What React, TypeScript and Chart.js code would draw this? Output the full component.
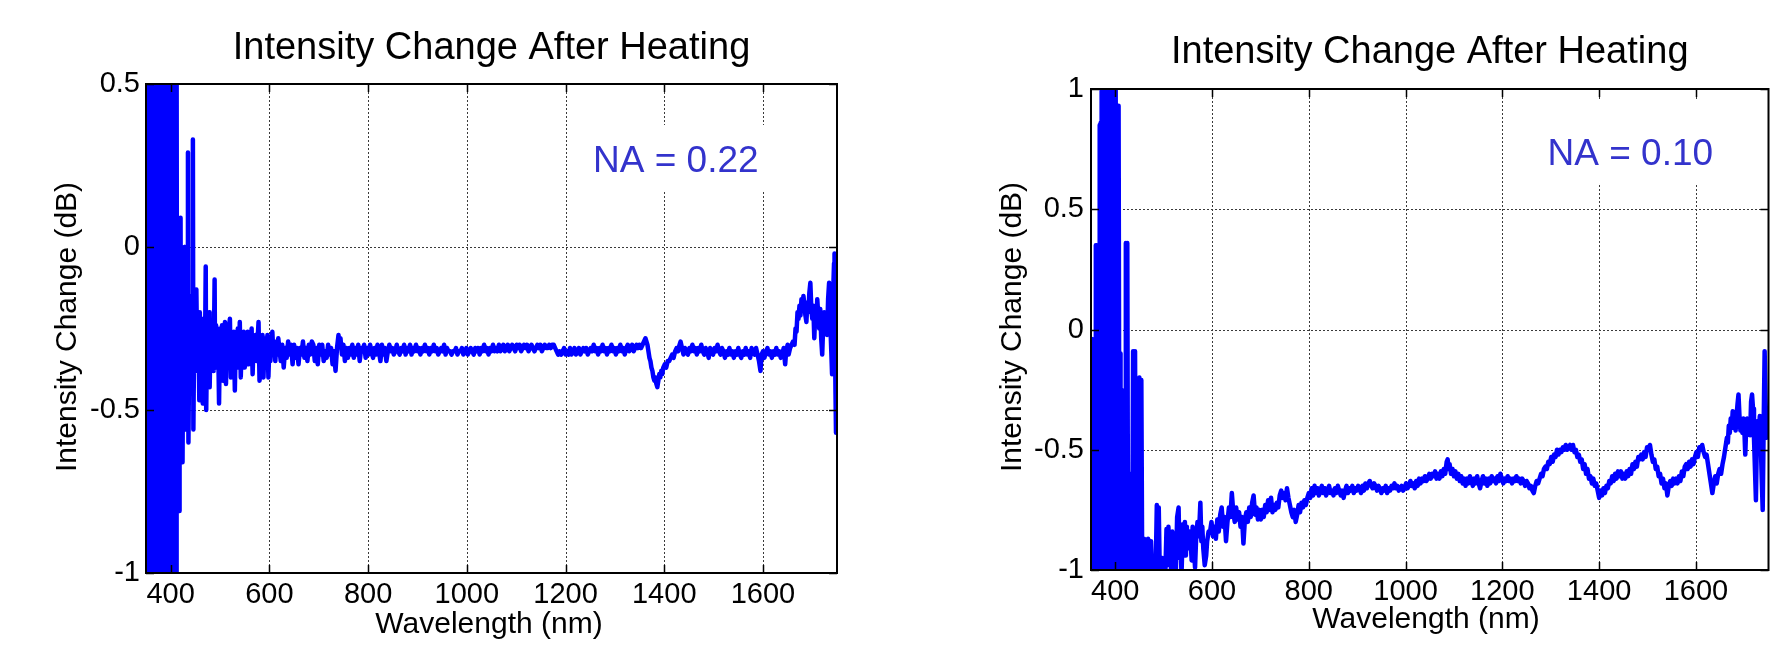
import React, { useEffect, useRef } from 'react';
import { Chart, registerables } from 'chart.js';

Chart.register(...registerables);

const FONT = "'Liberation Sans', Arial, Helvetica, sans-serif";

const chartTitle = 'Intensity Change After Heating';
const xAxisTitle = 'Wavelength (nm)';
const yAxisTitle = 'Intensity Change (dB)';
const xRange: [number, number] = [350, 1750];
const xTickValues = [400, 600, 800, 1000, 1200, 1400, 1600];
const yTicksNA022 = [-1, -0.5, 0, 0.5];
const yTicksNA010 = [-1, -0.5, 0, 0.5, 1];
const labelNA022 = 'NA = 0.22';
const labelNA010 = 'NA = 0.10';

// [wavelength (nm), intensity change (dB)] (NA = 0.22)
const spectrumNA022: [number, number][] = [
  [350,-0.15],[351,-0.96],[352,0.8],[353,-1.5],[354,0.9],[355,-0.6],[356,1.2],[357,-1.4],[358,0.7],[359,-1.6],
  [360,1.0],[361,-1.2],[362,0.6],[363,-1.5],[364,1.1],[365,-1.3],[366,0.9],[367,-1.5],[368,0.45],[369,-1.2],
  [370,1.0],[371,-1.4],[372,0.8],[373,-1.6],[374,1.2],[375,-1.1],[376,0.7],[377,-1.5],[378,1.0],[379,-1.3],
  [380,0.5],[381,-1.4],[382,1.1],[383,-1.6],[384,0.9],[385,-1.2],[386,0.6],[387,-1.5],[388,1.0],[389,-1.3],
  [390,0.43],[391,-1.5],[392,0.8],[393,-1.2],[394,1.1],[395,-1.4],[396,0.7],[397,-1.6],[398,1.0],[399,-1.3],
  [400,0.9],[401,-1.2],[402,1.2],[403,-1.5],[404,0.6],[405,-1.4],[406,1.0],[407,-1.2],[408,0.8],[409,-1.4],
  [410,1.1],[411,-1.1],[412,0.6],[413,-0.80],[414,0.08],[415,-0.78],[416,0.05],[417,-0.81],[418,-0.1],[419,-0.65],
  [420,0.09],[421,-0.62],[422,-0.05],[424,-0.66],[426,-0.1],[428,0.0],[429,-0.55],[431,-0.02],[432,-0.56],[434,-0.1],
  [435,0.29],[436,-0.6],[438,-0.2],[440,-0.45],[442,-0.15],[444,-0.3],[445,0.33],[446,-0.56],[448,-0.2],[450,-0.38],
  [452,-0.13],[454,-0.38],[456,-0.22],[458,-0.47],[459,-0.2],[461,-0.36],[463,-0.22],[465,-0.48],[467,-0.25],[469,-0.42],
  [471,-0.06],[472,-0.50],[474,-0.25],[476,-0.38],[478,-0.2],[479,-0.43],[481,-0.26],[483,-0.34],[485,-0.24],[487,-0.38],
  [489,-0.10],[490,-0.37],[492,-0.24],[494,-0.33],[496,-0.27],[498,-0.48],[500,-0.25],[502,-0.36],[504,-0.24],[506,-0.41],
  [508,-0.27],[510,-0.23],[512,-0.42],[514,-0.28],[516,-0.35],[518,-0.25],[520,-0.22],[522,-0.40],[524,-0.28],[526,-0.34],
  [528,-0.26],[530,-0.44],[532,-0.28],[534,-0.35],[536,-0.25],[538,-0.37],[540,-0.23],[542,-0.40],[544,-0.29],[546,-0.34],
  [548,-0.26],[550,-0.37],[552,-0.28],[554,-0.32],[556,-0.26],[558,-0.36],[560,-0.28],[562,-0.33],[564,-0.25],[566,-0.39],
  [568,-0.29],[570,-0.33],[572,-0.27],[574,-0.35],[576,-0.29],[578,-0.23],[580,-0.41],[582,-0.30],[584,-0.34],[586,-0.27],
  [588,-0.40],[590,-0.30],[592,-0.28],[594,-0.36],[596,-0.27],[598,-0.40],[600,-0.30],[602,-0.35],[604,-0.28],[606,-0.26],
  [608,-0.33],[610,-0.30],[612,-0.35],[614,-0.29],[616,-0.33],[618,-0.28],[620,-0.31],[623,-0.35],[626,-0.30],[629,-0.37],
  [632,-0.31],[635,-0.34],[638,-0.29],[641,-0.33],[644,-0.30],[647,-0.36],[650,-0.30],[653,-0.34],[656,-0.31],[659,-0.36],
  [662,-0.31],[665,-0.33],[668,-0.29],[671,-0.34],[674,-0.31],[677,-0.35],[680,-0.30],[683,-0.33],[686,-0.29],[689,-0.30],
  [692,-0.35],[695,-0.31],[698,-0.36],[701,-0.30],[704,-0.33],[707,-0.30],[710,-0.35],[713,-0.32],[716,-0.34],[719,-0.30],
  [722,-0.33],[725,-0.31],[728,-0.36],[731,-0.32],[734,-0.38],[737,-0.31],[740,-0.27],[742,-0.30],[744,-0.28],[747,-0.33],
  [750,-0.30],[753,-0.35],[756,-0.31],[759,-0.34],[762,-0.31],[765,-0.33],[768,-0.30],[771,-0.34],[774,-0.31],[777,-0.33],
  [780,-0.30],[783,-0.35],[786,-0.31],[789,-0.32],[792,-0.30],[795,-0.34],[798,-0.31],[801,-0.33],[804,-0.30],[807,-0.32],
  [810,-0.34],[813,-0.31],[816,-0.33],[819,-0.30],[822,-0.32],[825,-0.35],[828,-0.30],[831,-0.33],[834,-0.31],[837,-0.35],
  [840,-0.32],[843,-0.30],[846,-0.32],[849,-0.31],[852,-0.33],[855,-0.32],[858,-0.30],[861,-0.32],[864,-0.33],[867,-0.31],
  [870,-0.32],[873,-0.30],[876,-0.33],[879,-0.31],[882,-0.32],[885,-0.30],[888,-0.33],[891,-0.31],[894,-0.32],[897,-0.30],
  [900,-0.32],[903,-0.31],[906,-0.33],[909,-0.31],[912,-0.32],[915,-0.30],[918,-0.32],[921,-0.31],[924,-0.33],[927,-0.31],
  [930,-0.32],[933,-0.30],[936,-0.32],[939,-0.31],[942,-0.33],[945,-0.32],[948,-0.31],[951,-0.32],[954,-0.30],[957,-0.33],
  [960,-0.31],[963,-0.32],[966,-0.32],[969,-0.33],[972,-0.32],[975,-0.32],[978,-0.31],[981,-0.33],[984,-0.32],[987,-0.32],
  [990,-0.31],[993,-0.33],[996,-0.32],[999,-0.31],[1002,-0.33],[1005,-0.32],[1008,-0.31],[1011,-0.32],[1014,-0.33],[1017,-0.31],
  [1020,-0.32],[1023,-0.31],[1026,-0.33],[1029,-0.31],[1032,-0.32],[1035,-0.30],[1038,-0.32],[1041,-0.31],[1044,-0.33],[1047,-0.31],
  [1050,-0.32],[1053,-0.30],[1056,-0.32],[1059,-0.31],[1062,-0.32],[1065,-0.30],[1068,-0.32],[1071,-0.31],[1074,-0.30],[1077,-0.32],
  [1080,-0.31],[1083,-0.30],[1086,-0.32],[1089,-0.31],[1092,-0.30],[1095,-0.31],[1098,-0.32],[1101,-0.30],[1104,-0.31],[1107,-0.30],
  [1110,-0.32],[1113,-0.31],[1116,-0.30],[1119,-0.31],[1122,-0.30],[1125,-0.32],[1128,-0.31],[1131,-0.30],[1134,-0.31],[1137,-0.32],
  [1140,-0.31],[1143,-0.30],[1146,-0.31],[1149,-0.30],[1152,-0.32],[1155,-0.31],[1158,-0.30],[1161,-0.31],[1164,-0.31],[1167,-0.30],
  [1170,-0.31],[1173,-0.30],[1176,-0.30],[1179,-0.31],[1182,-0.32],[1185,-0.33],[1188,-0.32],[1191,-0.33],[1194,-0.32],[1197,-0.31],
  [1200,-0.33],[1203,-0.32],[1206,-0.33],[1209,-0.31],[1212,-0.33],[1215,-0.32],[1218,-0.31],[1221,-0.33],[1224,-0.32],[1227,-0.31],
  [1230,-0.33],[1233,-0.32],[1236,-0.31],[1239,-0.32],[1242,-0.31],[1245,-0.33],[1248,-0.32],[1251,-0.31],[1254,-0.32],[1257,-0.30],
  [1260,-0.32],[1263,-0.31],[1266,-0.33],[1269,-0.31],[1272,-0.32],[1275,-0.30],[1278,-0.32],[1281,-0.31],[1284,-0.33],[1287,-0.31],
  [1290,-0.32],[1293,-0.30],[1296,-0.32],[1299,-0.31],[1302,-0.33],[1305,-0.31],[1308,-0.32],[1311,-0.30],[1314,-0.32],[1317,-0.31],
  [1320,-0.33],[1323,-0.31],[1326,-0.30],[1329,-0.32],[1332,-0.31],[1335,-0.30],[1338,-0.32],[1341,-0.31],[1344,-0.30],[1347,-0.31],
  [1350,-0.30],[1353,-0.31],[1356,-0.30],[1359,-0.29],[1362,-0.28],[1364,-0.29],[1366,-0.30],[1368,-0.32],[1370,-0.34],[1372,-0.35],
  [1374,-0.37],[1376,-0.38],[1378,-0.40],[1380,-0.41],[1382,-0.40],[1384,-0.42],[1386,-0.43],[1388,-0.41],[1390,-0.39],[1392,-0.40],
  [1394,-0.38],[1396,-0.39],[1398,-0.37],[1401,-0.36],[1404,-0.37],[1407,-0.35],[1410,-0.35],[1413,-0.34],[1416,-0.33],[1419,-0.34],
  [1422,-0.32],[1425,-0.31],[1428,-0.32],[1431,-0.30],[1433,-0.29],[1436,-0.31],[1439,-0.33],[1442,-0.31],[1445,-0.32],[1448,-0.33],
  [1451,-0.31],[1454,-0.32],[1457,-0.30],[1460,-0.32],[1463,-0.31],[1466,-0.33],[1469,-0.31],[1472,-0.32],[1475,-0.30],[1478,-0.32],
  [1481,-0.33],[1484,-0.31],[1487,-0.32],[1490,-0.34],[1493,-0.31],[1496,-0.32],[1499,-0.33],[1502,-0.31],[1505,-0.32],[1508,-0.30],
  [1511,-0.32],[1514,-0.33],[1517,-0.31],[1520,-0.32],[1523,-0.34],[1526,-0.32],[1529,-0.33],[1532,-0.31],[1535,-0.33],[1538,-0.32],
  [1541,-0.34],[1544,-0.32],[1547,-0.33],[1550,-0.31],[1553,-0.33],[1556,-0.34],[1559,-0.32],[1562,-0.33],[1565,-0.31],[1568,-0.33],
  [1571,-0.32],[1574,-0.34],[1577,-0.31],[1580,-0.32],[1583,-0.33],[1586,-0.31],[1589,-0.33],[1592,-0.35],[1595,-0.38],[1597,-0.33],
  [1600,-0.32],[1603,-0.34],[1606,-0.32],[1609,-0.31],[1612,-0.33],[1615,-0.32],[1618,-0.34],[1621,-0.32],[1624,-0.33],[1627,-0.31],
  [1630,-0.33],[1633,-0.32],[1636,-0.34],[1639,-0.33],[1642,-0.31],[1645,-0.36],[1647,-0.32],[1650,-0.30],[1652,-0.33],[1655,-0.31],
  [1658,-0.30],[1661,-0.29],[1664,-0.30],[1666,-0.25],[1668,-0.26],[1670,-0.20],[1672,-0.22],[1674,-0.18],[1676,-0.21],[1678,-0.16],
  [1680,-0.19],[1682,-0.15],[1684,-0.18],[1686,-0.21],[1688,-0.23],[1690,-0.17],[1692,-0.20],[1694,-0.14],[1696,-0.11],[1698,-0.19],
  [1700,-0.22],[1702,-0.18],[1704,-0.28],[1706,-0.20],[1708,-0.24],[1710,-0.16],[1712,-0.21],[1714,-0.25],[1716,-0.19],[1718,-0.28],
  [1720,-0.33],[1722,-0.24],[1724,-0.20],[1726,-0.26],[1728,-0.21],[1730,-0.27],[1732,-0.16],[1734,-0.11],[1736,-0.22],[1738,-0.30],
  [1740,-0.39],[1742,-0.15],[1744,-0.05],[1745,-0.02],[1746,-0.30],[1747,-0.45],[1748,-0.57],[1749,-0.25],[1750,-0.08],
];

// [wavelength (nm), intensity change (dB)] (NA = 0.10)
const spectrumNA010: [number, number][] = [
  [350,-0.04],[352,-0.30],[353,-0.63],[354,-1.3],[356,-0.63],[357,-1.2],[358,-0.4],[359,-1.4],[360,0.35],[361,-1.2],
  [362,0.35],[363,-1.3],[364,0.35],[365,-1.5],[366,0.0],[367,-1.2],[368,0.85],[369,-1.4],[370,0.86],[371,-1.3],
  [372,1.5],[373,-1.5],[374,1.4],[375,-1.2],[376,1.6],[377,-1.4],[378,1.3],[379,-1.5],[380,1.5],[381,-1.3],
  [382,1.2],[383,-1.6],[384,1.4],[385,-0.7],[386,1.3],[387,-1.4],[388,0.6],[389,-1.2],[390,-0.9],[391,-0.75],
  [392,-1.4],[393,1.3],[394,-1.2],[395,1.5],[396,-1.4],[397,1.2],[398,-1.3],[399,1.4],[400,-0.2],[401,1.1],
  [402,-1.3],[403,0.3],[404,-1.2],[405,0.93],[406,-1.1],[407,0.93],[408,-0.10],[409,-1.3],[410,-0.10],[411,-0.25],
  [412,-1.2],[413,-0.25],[415,-1.3],[416,-0.58],[418,-1.2],[419,-0.58],[421,-1.3],[422,0.36],[424,-1.2],[425,0.36],
  [427,-1.4],[429,-0.95],[431,-1.2],[433,-0.60],[435,-1.1],[437,-0.09],[439,-1.3],[441,-0.09],[443,-1.2],[445,-0.95],
  [447,-1.3],[450,-0.20],[452,-1.3],[454,-0.21],[456,-1.1],[458,-0.88],[460,-0.87],[462,-0.90],[464,-0.88],[466,-1.05],
  [468,-0.87],[470,-0.89],[472,-1.0],[474,-0.88],[477,-1.05],[480,-0.95],[483,-1.08],[486,-0.73],[488,-1.05],[490,-0.74],
  [492,-1.0],[494,-1.05],[497,-0.95],[500,-1.02],[503,-1.06],[506,-0.83],[508,-0.98],[510,-0.82],[512,-0.95],[514,-0.90],
  [516,-1.05],[518,-0.84],[521,-0.94],[523,-0.85],[525,-1.03],[528,-0.78],[531,-0.74],[533,-0.95],[535,-0.87],[537,-1.02],
  [540,-0.81],[542,-0.89],[544,-0.80],[546,-0.94],[548,-0.82],[550,-0.91],[553,-0.84],[556,-0.88],[558,-0.96],[560,-0.82],
  [563,-0.92],[565,-0.99],[567,-0.88],[570,-0.80],[573,-0.86],[576,-0.72],[578,-0.88],[580,-0.82],[582,-0.91],[585,-0.98],
  [588,-0.94],[590,-0.88],[593,-0.84],[596,-0.84],[599,-0.80],[602,-0.86],[605,-0.82],[608,-0.87],[611,-0.79],[614,-0.84],
  [617,-0.77],[620,-0.74],[623,-0.82],[626,-0.78],[629,-0.88],[632,-0.80],[635,-0.74],[638,-0.78],[641,-0.68],[644,-0.76],
  [647,-0.80],[650,-0.74],[653,-0.79],[656,-0.76],[659,-0.82],[662,-0.78],[665,-0.89],[668,-0.79],[671,-0.76],[674,-0.80],
  [677,-0.74],[680,-0.78],[683,-0.72],[686,-0.69],[689,-0.77],[692,-0.74],[695,-0.79],[698,-0.75],[701,-0.79],[704,-0.75],
  [707,-0.78],[710,-0.73],[713,-0.76],[716,-0.71],[719,-0.75],[722,-0.70],[725,-0.76],[728,-0.73],[731,-0.75],[734,-0.72],
  [737,-0.74],[740,-0.69],[743,-0.67],[746,-0.70],[749,-0.68],[752,-0.71],[755,-0.66],[758,-0.70],[761,-0.73],[764,-0.76],
  [767,-0.78],[770,-0.75],[773,-0.80],[776,-0.77],[779,-0.73],[782,-0.76],[785,-0.72],[788,-0.74],[791,-0.71],[794,-0.73],
  [797,-0.70],[800,-0.68],[803,-0.70],[806,-0.66],[809,-0.69],[812,-0.65],[815,-0.68],[818,-0.66],[821,-0.69],[824,-0.67],
  [827,-0.65],[830,-0.68],[833,-0.66],[836,-0.69],[839,-0.67],[842,-0.65],[845,-0.68],[848,-0.67],[851,-0.69],[854,-0.66],
  [857,-0.68],[860,-0.65],[863,-0.67],[866,-0.69],[869,-0.67],[872,-0.70],[875,-0.67],[878,-0.65],[881,-0.68],[884,-0.66],
  [887,-0.67],[890,-0.65],[893,-0.68],[896,-0.66],[899,-0.67],[902,-0.65],[905,-0.66],[908,-0.68],[911,-0.65],[914,-0.67],
  [917,-0.64],[920,-0.66],[923,-0.64],[926,-0.63],[929,-0.65],[932,-0.66],[935,-0.64],[938,-0.65],[941,-0.67],[944,-0.65],
  [947,-0.66],[950,-0.68],[953,-0.66],[956,-0.67],[959,-0.65],[962,-0.68],[965,-0.66],[968,-0.67],[971,-0.65],[974,-0.66],
  [977,-0.64],[980,-0.66],[983,-0.65],[986,-0.67],[989,-0.66],[992,-0.65],[995,-0.67],[998,-0.66],[1001,-0.64],[1004,-0.66],
  [1007,-0.65],[1010,-0.63],[1013,-0.65],[1016,-0.64],[1019,-0.66],[1022,-0.63],[1025,-0.65],[1028,-0.62],[1031,-0.64],[1034,-0.62],
  [1037,-0.63],[1040,-0.61],[1043,-0.63],[1046,-0.62],[1049,-0.60],[1052,-0.62],[1055,-0.60],[1058,-0.61],[1061,-0.59],[1064,-0.62],
  [1067,-0.60],[1070,-0.62],[1073,-0.59],[1076,-0.61],[1079,-0.58],[1082,-0.60],[1085,-0.55],[1087,-0.54],[1089,-0.58],[1091,-0.56],
  [1094,-0.60],[1097,-0.58],[1100,-0.61],[1103,-0.59],[1106,-0.62],[1109,-0.60],[1112,-0.63],[1115,-0.61],[1118,-0.64],[1121,-0.62],
  [1124,-0.65],[1127,-0.62],[1130,-0.64],[1133,-0.61],[1136,-0.63],[1139,-0.65],[1142,-0.62],[1145,-0.64],[1148,-0.61],[1151,-0.64],
  [1154,-0.66],[1157,-0.63],[1160,-0.61],[1163,-0.64],[1166,-0.62],[1169,-0.65],[1172,-0.62],[1175,-0.64],[1178,-0.61],[1181,-0.63],
  [1184,-0.62],[1187,-0.64],[1190,-0.61],[1193,-0.63],[1196,-0.60],[1199,-0.62],[1202,-0.64],[1205,-0.62],[1208,-0.63],[1211,-0.61],
  [1214,-0.63],[1217,-0.62],[1220,-0.64],[1223,-0.62],[1226,-0.63],[1229,-0.61],[1232,-0.63],[1235,-0.62],[1238,-0.64],[1241,-0.62],
  [1244,-0.63],[1247,-0.65],[1250,-0.63],[1253,-0.64],[1256,-0.66],[1259,-0.65],[1262,-0.67],[1265,-0.68],[1268,-0.65],[1271,-0.63],
  [1274,-0.64],[1277,-0.62],[1280,-0.60],[1283,-0.61],[1286,-0.58],[1289,-0.57],[1292,-0.58],[1295,-0.55],[1298,-0.56],[1301,-0.53],
  [1304,-0.55],[1307,-0.52],[1310,-0.53],[1313,-0.50],[1316,-0.52],[1319,-0.50],[1322,-0.51],[1325,-0.49],[1328,-0.50],[1331,-0.48],
  [1334,-0.50],[1337,-0.49],[1340,-0.48],[1343,-0.50],[1346,-0.48],[1349,-0.51],[1352,-0.50],[1355,-0.53],[1358,-0.52],[1361,-0.55],
  [1364,-0.54],[1367,-0.58],[1370,-0.56],[1373,-0.60],[1376,-0.58],[1379,-0.62],[1382,-0.61],[1385,-0.64],[1388,-0.62],[1391,-0.65],
  [1394,-0.64],[1397,-0.67],[1400,-0.70],[1403,-0.67],[1406,-0.69],[1409,-0.66],[1412,-0.68],[1415,-0.65],[1418,-0.66],[1421,-0.63],
  [1424,-0.64],[1427,-0.61],[1430,-0.63],[1433,-0.60],[1436,-0.62],[1439,-0.59],[1442,-0.61],[1445,-0.59],[1448,-0.62],[1451,-0.60],
  [1454,-0.62],[1457,-0.59],[1460,-0.61],[1463,-0.58],[1466,-0.60],[1469,-0.56],[1472,-0.58],[1475,-0.55],[1478,-0.57],[1481,-0.53],
  [1484,-0.54],[1487,-0.52],[1490,-0.54],[1493,-0.51],[1496,-0.53],[1499,-0.49],[1502,-0.50],[1505,-0.48],[1508,-0.52],[1511,-0.55],
  [1514,-0.54],[1517,-0.58],[1520,-0.57],[1523,-0.61],[1526,-0.60],[1529,-0.64],[1532,-0.62],[1535,-0.66],[1538,-0.64],[1541,-0.69],
  [1544,-0.65],[1547,-0.63],[1550,-0.65],[1553,-0.62],[1556,-0.64],[1559,-0.62],[1562,-0.64],[1565,-0.61],[1568,-0.63],[1571,-0.59],
  [1574,-0.61],[1577,-0.57],[1580,-0.56],[1583,-0.58],[1586,-0.55],[1589,-0.57],[1592,-0.54],[1595,-0.56],[1598,-0.53],[1601,-0.51],
  [1604,-0.53],[1607,-0.49],[1610,-0.50],[1613,-0.48],[1616,-0.51],[1619,-0.53],[1622,-0.52],[1625,-0.56],[1628,-0.60],[1631,-0.64],
  [1634,-0.68],[1637,-0.64],[1640,-0.61],[1643,-0.64],[1646,-0.60],[1649,-0.58],[1652,-0.60],[1655,-0.56],[1658,-0.53],[1661,-0.49],
  [1664,-0.45],[1666,-0.47],[1668,-0.40],[1670,-0.43],[1672,-0.37],[1674,-0.41],[1676,-0.34],[1678,-0.40],[1680,-0.35],[1682,-0.42],
  [1684,-0.36],[1686,-0.31],[1688,-0.27],[1690,-0.36],[1692,-0.42],[1694,-0.38],[1696,-0.43],[1698,-0.37],[1700,-0.41],[1702,-0.52],
  [1704,-0.40],[1706,-0.37],[1708,-0.42],[1710,-0.38],[1712,-0.44],[1714,-0.30],[1716,-0.27],[1718,-0.33],[1720,-0.45],[1722,-0.58],
  [1724,-0.71],[1726,-0.45],[1728,-0.38],[1730,-0.43],[1732,-0.36],[1734,-0.47],[1736,-0.62],[1738,-0.75],[1740,-0.40],[1742,-0.09],
  [1744,-0.30],[1746,-0.45],[1748,-0.40],[1750,-0.44],
];

type Panel = {
  key: string;
  canvasLeft: number;
  points: [number, number][];
  yTicks: number[];
  naLabel: string;
  yAxisWidth: number;
  padRight: number;
  padTop: number;
  xAxisHeight: number;
  yTickPad: number;
  titleBaseline: number;
  xTitleX: number;
  xTitleBaseline: number;
  yTitleX: number;
  yTitleY: number;
  naX: number;
  naBaseline: number;
  naBox: [number, number, number, number];
};

const panels: Panel[] = [
  {
    key: 'na022', canvasLeft: 0, points: spectrumNA022, yTicks: yTicksNA022, naLabel: labelNA022,
    yAxisWidth: 146, padRight: 48, padTop: 84, xAxisHeight: 72, yTickPad: 6,
    titleBaseline: 58.5, xTitleX: 489, xTitleBaseline: 633, yTitleX: 75.5, yTitleY: 327,
    naX: 593, naBaseline: 171.5, naBox: [585, 125, 187, 66],
  },
  {
    key: 'na010', canvasLeft: 885, points: spectrumNA010, yTicks: yTicksNA010, naLabel: labelNA010,
    yAxisWidth: 206, padRight: 1.5, padTop: 89, xAxisHeight: 75, yTickPad: 7,
    titleBaseline: 63, xTitleX: 541, xTitleBaseline: 628, yTitleX: 136, yTitleY: 327,
    naX: 662.5, naBaseline: 165, naBox: [655, 100, 180, 83],
  },
];

const CANVAS_W = 885;
const CANVAS_H = 645;

function decorPlugin(p: Panel) {
  return {
    id: 'decor_' + p.key,
    beforeDatasetsDraw(chart: any) {
      const { ctx, chartArea: a, scales } = chart;
      const xs = scales.x;
      const ys = scales.y;
      const yMin = p.yTicks[0];
      const yMax = p.yTicks[p.yTicks.length - 1];
      ctx.save();
      ctx.strokeStyle = '#3a3a3a';
      ctx.lineWidth = 1;
      ctx.setLineDash([2, 2]);
      for (const v of xTickValues) {
        const px = Math.round(xs.getPixelForValue(v)) + 0.5;
        ctx.beginPath();
        ctx.moveTo(px, a.top);
        ctx.lineTo(px, a.bottom);
        ctx.stroke();
      }
      for (const v of p.yTicks) {
        if (v === yMin || v === yMax) continue;
        const py = Math.round(ys.getPixelForValue(v)) + 0.5;
        ctx.beginPath();
        ctx.moveTo(a.left, py);
        ctx.lineTo(a.right, py);
        ctx.stroke();
      }
      ctx.setLineDash([]);
      ctx.fillStyle = '#ffffff';
      const [bx, by, bw, bh] = p.naBox;
      ctx.fillRect(bx, by, bw, bh);
      ctx.restore();
    },
    afterDatasetsDraw(chart: any) {
      const { ctx, chartArea: a, scales } = chart;
      const xs = scales.x;
      const ys = scales.y;
      ctx.save();
      ctx.strokeStyle = '#000';
      ctx.lineWidth = 1.5;
      const tl = 8;
      for (const v of xTickValues) {
        const px = Math.round(xs.getPixelForValue(v)) + 0.5;
        ctx.beginPath();
        ctx.moveTo(px, a.bottom);
        ctx.lineTo(px, a.bottom - tl);
        ctx.moveTo(px, a.top);
        ctx.lineTo(px, a.top + tl);
        ctx.stroke();
      }
      for (const v of p.yTicks) {
        const py = Math.round(ys.getPixelForValue(v)) + 0.5;
        ctx.beginPath();
        ctx.moveTo(a.left, py);
        ctx.lineTo(a.left + tl, py);
        ctx.moveTo(a.right, py);
        ctx.lineTo(a.right - tl, py);
        ctx.stroke();
      }
      ctx.lineWidth = 2;
      ctx.strokeRect(a.left, a.top, a.right - a.left, a.bottom - a.top);

      ctx.fillStyle = '#000';
      ctx.textAlign = 'center';
      ctx.textBaseline = 'alphabetic';
      ctx.font = `38px ${FONT}`;
      ctx.fillText(chartTitle, (a.left + a.right) / 2, p.titleBaseline);
      ctx.font = `30px ${FONT}`;
      ctx.fillText(xAxisTitle, p.xTitleX, p.xTitleBaseline);
      ctx.save();
      ctx.translate(p.yTitleX, p.yTitleY);
      ctx.rotate(-Math.PI / 2);
      ctx.fillText(yAxisTitle, 0, 0);
      ctx.restore();
      ctx.fillStyle = 'rgb(51,51,204)';
      ctx.textAlign = 'left';
      ctx.font = `37px ${FONT}`;
      ctx.fillText(p.naLabel, p.naX, p.naBaseline);
      ctx.restore();
    },
  };
}

function PanelChart({ p }: { p: Panel }) {
  const ref = useRef<HTMLCanvasElement | null>(null);
  useEffect(() => {
    if (!ref.current) return;
    const yMin = p.yTicks[0];
    const yMax = p.yTicks[p.yTicks.length - 1];
    const chart = new Chart(ref.current, {
      type: 'line',
      data: {
        datasets: [
          {
            data: p.points.map(([x, y]) => ({ x, y })),
            borderColor: '#0000ff',
            backgroundColor: '#0000ff',
            borderWidth: 4.5,
            pointRadius: 0,
            tension: 0,
            fill: false,
            borderJoinStyle: 'round',
            borderCapStyle: 'round',
            clip: 0,
          } as any,
        ],
      },
      options: {
        animation: false,
        responsive: false,
        devicePixelRatio: 1,
        events: [],
        layout: { padding: { left: 0, right: p.padRight, top: p.padTop, bottom: 0 } },
        plugins: { legend: { display: false }, title: { display: false }, tooltip: { enabled: false } },
        scales: {
          x: {
            type: 'linear',
            min: xRange[0],
            max: xRange[1],
            afterBuildTicks: (axis: any) => {
              axis.ticks = xTickValues.map((v) => ({ value: v }));
            },
            afterFit: (axis: any) => {
              axis.height = p.xAxisHeight;
            },
            grid: { display: false, drawTicks: false },
            border: { display: false },
            ticks: {
              autoSkip: false,
              maxRotation: 0,
              padding: 5,
              color: '#000',
              font: { family: FONT, size: 29 },
              callback: (v: any) => String(v),
            },
          },
          y: {
            type: 'linear',
            min: yMin,
            max: yMax,
            afterBuildTicks: (axis: any) => {
              axis.ticks = p.yTicks.map((v) => ({ value: v }));
            },
            afterFit: (axis: any) => {
              axis.width = p.yAxisWidth;
            },
            grid: { display: false, drawTicks: false },
            border: { display: false },
            ticks: {
              autoSkip: false,
              padding: p.yTickPad,
              color: '#000',
              font: { family: FONT, size: 29 },
              callback: (v: any) => String(v),
            },
          },
        },
      } as any,
      plugins: [decorPlugin(p)],
    });
    return () => chart.destroy();
  }, [p]);
  return (
    <canvas
      ref={ref}
      width={CANVAS_W}
      height={CANVAS_H}
      style={{ position: 'absolute', left: p.canvasLeft, top: 0, width: CANVAS_W, height: CANVAS_H }}
    />
  );
}

export default function App() {
  return (
    <div style={{ position: 'absolute', left: 0, top: 0, width: 1770, height: 645, background: '#fff', overflow: 'hidden' }}>
      {panels.map((p) => (
        <PanelChart key={p.key} p={p} />
      ))}
    </div>
  );
}
